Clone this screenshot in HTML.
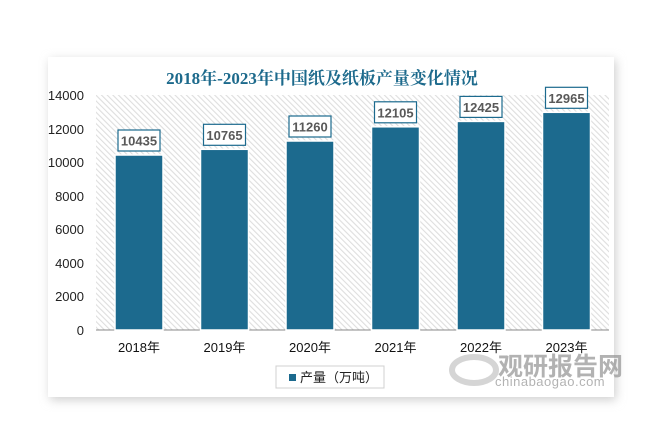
<!DOCTYPE html>
<html><head><meta charset="utf-8"><style>
body{margin:0;width:668px;height:447px;background:#fff;overflow:hidden;font-family:"Liberation Sans","Noto Sans CJK SC",sans-serif;}
</style></head><body>
<svg width="668" height="447" xmlns="http://www.w3.org/2000/svg" style="position:absolute;left:0;top:0">
<defs>
<pattern id="h" width="4" height="4" patternUnits="userSpaceOnUse" patternTransform="rotate(-45)">
<rect width="4" height="4" fill="#fff"/><rect width="1.1" height="4" fill="#dedede"/></pattern>
<filter id="s" x="-10%" y="-10%" width="120%" height="120%"><feGaussianBlur stdDeviation="5"/></filter>
</defs>
<rect x="50" y="60" width="566" height="340" fill="#cfcfcf" filter="url(#s)"/>
<rect x="48" y="57" width="566" height="340" fill="#fff"/>
<text x="322" y="84" text-anchor="middle" font-family="Liberation Serif,Noto Serif CJK SC,serif" font-weight="bold" font-size="17" fill="#1d6a8c">2018年-2023年中国纸及纸板产量变化情况</text>
<rect x="96" y="95" width="513" height="235" fill="url(#h)"/>
<line x1="96" y1="330" x2="609" y2="330" stroke="#888" stroke-width="1"/>
<g font-size="13" fill="#222" text-anchor="end">
<text x="84" y="100">14000</text><text x="84" y="134">12000</text><text x="84" y="167">10000</text>
<text x="84" y="201">8000</text><text x="84" y="234">6000</text><text x="84" y="268">4000</text>
<text x="84" y="301">2000</text><text x="84" y="335">0</text></g>
<g fill="#1c6a8e" stroke="#fff" stroke-width="1.5">
<rect x="115" y="155" width="48" height="175"/>
<rect x="200.5" y="149.3" width="48" height="180.7"/>
<rect x="286" y="141" width="48" height="189"/>
<rect x="371.5" y="126.8" width="48" height="203.2"/>
<rect x="457" y="121.4" width="48" height="208.6"/>
<rect x="542.5" y="112.3" width="48" height="217.7"/>
</g>
<g fill="#fff" stroke="#1c6a8e" stroke-width="1.2">
<rect x="118" y="130" width="42" height="21"/>
<rect x="203.5" y="124.3" width="42" height="21"/>
<rect x="289" y="116" width="42" height="21"/>
<rect x="374.5" y="101.8" width="42" height="21"/>
<rect x="460" y="96.4" width="42" height="21"/>
<rect x="545.5" y="87.3" width="42" height="21"/>
</g>
<g font-size="13" font-weight="bold" fill="#595959" text-anchor="middle">
<text x="139" y="145.5">10435</text><text x="224.5" y="139.8">10765</text><text x="310" y="131.5">11260</text>
<text x="395.5" y="117.3">12105</text><text x="481" y="111.9">12425</text><text x="566.5" y="102.8">12965</text>
</g>
<g font-size="13" fill="#111" text-anchor="middle">
<text x="139" y="352">2018年</text><text x="224.5" y="352">2019年</text><text x="310" y="352">2020年</text>
<text x="395.5" y="352">2021年</text><text x="481" y="352">2022年</text><text x="566.5" y="352">2023年</text>
</g>
<rect x="276" y="366" width="108" height="22" fill="#fff" stroke="#d0d0d0"/>
<rect x="289" y="374" width="7" height="7" fill="#1c6a8e"/>
<text x="300" y="382" font-size="13" fill="#222">产量（万吨）</text>
<g opacity="0.75">
<ellipse cx="474" cy="370" rx="22" ry="13" fill="none" stroke="#c8c8c8" stroke-width="6"/>
<text x="498" y="375" font-size="25" font-weight="bold" fill="#999">观研报告网</text>
<text x="495" y="386" font-size="13" fill="#999" letter-spacing="0.5">chinabaogao.com</text>
</g>
</svg>
</body></html>
